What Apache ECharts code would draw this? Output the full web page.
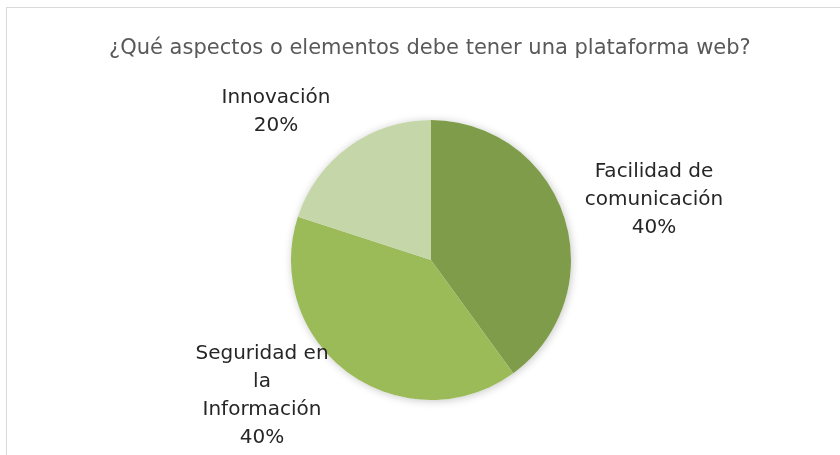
<!DOCTYPE html>
<html>
<head>
<meta charset="utf-8">
<script src="https://cdn.jsdelivr.net/npm/echarts@6/dist/echarts.min.js"></script>
<style>
  html, body { margin: 0; padding: 0; background: #fff; }
  #frame { position: absolute; left: 6px; top: 7px; width: 900px; height: 500px;
    border-left: 1px solid #d9d9d9; border-top: 1px solid #d9d9d9; }
  #chart { position: absolute; left: 0; top: 0; width: 840px; height: 455px; }
</style>
</head>
<body>
<div id="frame"></div>
<div id="chart"></div>
<script>
const title = '¿Qué aspectos o elementos debe tener una plataforma web?';
const categories = ['Facilidad de comunicación', 'Seguridad en la Información', 'Innovación'];
const labelLines = ['Facilidad de\ncomunicación', 'Seguridad en\nla\nInformación', 'Innovación'];
const values = [40, 40, 20];
const colors = ['#7e9c4a', '#9bbb59', '#c5d6a8'];
// label centres (x, y) in px
const labelSpots = [[654, 200], [262, 396], [276, 112]];

const chart = echarts.init(document.getElementById('chart'), null, { renderer: 'canvas' });
const total = values.reduce((a, b) => a + b, 0);

const pieBase = {
  type: 'pie',
  center: [431, 260],
  radius: 140,
  startAngle: 90,
  clockwise: true,
  emphasis: { disabled: true }
};

chart.setOption({
  animation: false,
  backgroundColor: 'transparent',
  title: {
    text: title,
    left: 104,
    top: 33,
    textStyle: { fontFamily: 'DejaVu Sans', fontSize: 21, fontWeight: 'normal', color: '#595959' }
  },
  series: [
    // soft shadow under the whole pie
    Object.assign({}, pieBase, {
      silent: true,
      z: 1,
      data: values.map((v) => ({ value: v })),
      itemStyle: { color: '#fff', shadowBlur: 8, shadowColor: 'rgba(0,0,0,0.22)', shadowOffsetX: 1, shadowOffsetY: 1 },
      label: { show: false },
      labelLine: { show: false }
    }),
    Object.assign({}, pieBase, {
      z: 2,
      data: categories.map((c, i) => ({ name: c, value: values[i], itemStyle: { color: colors[i] } })),
      itemStyle: { borderWidth: 0 },
      label: {
        show: true,
        position: 'outside',
        formatter: (p) => `${labelLines[p.dataIndex]}\n${Math.round(p.value / total * 100)}%`,
        fontFamily: 'DejaVu Sans',
        fontSize: 20,
        lineHeight: 28,
        color: '#262626',
        align: 'center',
        verticalAlign: 'middle'
      },
      labelLine: { show: false },
      labelLayout: (params) => ({
        x: labelSpots[params.dataIndex][0],
        y: labelSpots[params.dataIndex][1],
        align: 'center',
        verticalAlign: 'middle'
      })
    })
  ]
});
window.addEventListener('resize', chart.resize);
</script>
</body>
</html>
